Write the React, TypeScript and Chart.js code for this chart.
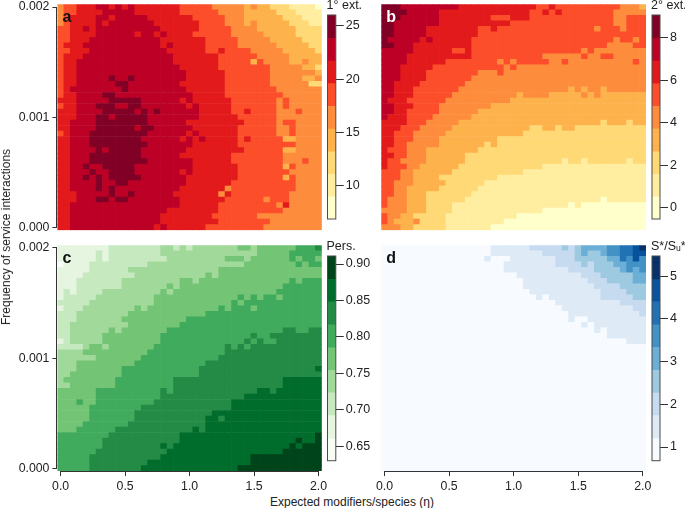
import React, { useEffect, useRef } from "react";
import { Chart, registerables } from "chart.js";

Chart.register(...registerables);

const FONT = '"Liberation Sans", Arial, sans-serif';
const INK = "#222222";

const etaStep = 0.05;
const freqStep = 0.00005;
const freqTop = 0.002;
const columnCount = 41;

const xTicks = [0, 0.5, 1, 1.5, 2];
const yTicks = [0, 0.001, 0.002];

const ylOrRd = ["#ffffcc", "#ffeda0", "#fed976", "#feb24c", "#fd8d3c", "#fc4e2a", "#e31a1c", "#bd0026", "#800026"];
const greens = ["#f7fcf5", "#e5f5e0", "#c7e9c0", "#a1d99b", "#74c476", "#41ab5d", "#238b45", "#006d2c", "#00441b"];
const blues = ["#f7fbff", "#deebf7", "#c6dbef", "#9ecae1", "#6baed6", "#4292c6", "#2171b5", "#08519c", "#08306b"];

const breaksA = [6.9, 9.03, 11.15, 13.27, 15.4, 17.52, 19.65, 21.77, 23.9, 26.03];
const breaksB = [-0.52, 0.54, 1.61, 2.67, 3.74, 4.8, 5.86, 6.93, 7.99, 9.06];
const breaksC = [0.63, 0.661, 0.693, 0.724, 0.755, 0.786, 0.817, 0.849, 0.88, 0.911];
const breaksD = [0.68, 1.21, 1.75, 2.28, 2.81, 3.35, 3.88, 4.41, 4.94, 5.475];

const ticksA = [10, 15, 20, 25];
const ticksB = [0, 2, 4, 6, 8];
const ticksC = [0.65, 0.7, 0.75, 0.8, 0.85, 0.9];
const ticksD = [1, 2, 3, 4, 5];

// Each row runs from the top of a panel; "c:l" means level l starts at column c.
const primaryExtinctions = [
  "0:4 1:5 3:6 6:7 8:6 9:7 10:6 11:7 12:6 19:5 24:4 29:3 30:4 31:3 33:2 36:1 40:0",
  "0:4 1:5 3:6 7:7 12:6 19:5 25:4 29:3 34:2 37:1",
  "0:4 1:5 2:6 6:7 8:6 9:7 14:6 21:5 26:4 29:3 35:2 38:1",
  "0:4 1:5 2:6 6:7 7:6 8:7 15:6 22:5 26:4 29:3 30:4 31:3 36:2 39:1",
  "0:5 2:6 4:7 5:6 6:7 16:6 22:5 27:4 31:3 37:2",
  "0:5 2:6 6:7 12:6 13:7 15:6 16:7 17:6 21:5 27:4 32:3 37:2",
  "0:5 2:6 5:7 16:6 23:5 28:4 33:3 38:2",
  "0:5 1:6 4:7 5:7 16:6 17:7 18:6 23:5 28:4 34:3 39:2",
  "0:5 2:6 5:7 17:6 23:5 25:6 26:5 30:4 35:3 40:2",
  "0:5 1:6 4:7 18:6 25:5 31:4 36:3",
  "0:5 1:6 3:7 18:6 25:5 30:3 31:5 32:4 36:3 38:4 39:3",
  "0:5 1:6 3:7 19:6 25:5 33:4 38:3 40:2",
  "0:5 1:6 3:7 20:6 26:5 33:4 40:3",
  "0:5 1:6 3:7 8:8 9:7 11:8 12:7 20:6 26:5 33:4 38:3 40:4",
  "0:5 1:6 3:7 9:8 11:7 19:6 26:5 33:4 39:2",
  "0:5 1:6 2:7 10:8 11:7 20:6 26:5 34:4",
  "0:5 1:6 3:7 7:8 9:7 21:6 26:5 35:4",
  "0:6 3:7 8:8 13:7 19:6 20:7 21:6 27:5 34:4 35:5 36:4",
  "0:5 1:6 3:7 6:8 9:7 11:8 13:7 20:6 21:7 22:6 27:5 34:4 35:5 36:4",
  "0:6 3:7 7:8 12:7 13:8 14:7 15:8 16:7 22:6 27:5 29:6 30:5 34:4 37:5 38:4",
  "0:6 3:7 6:8 8:7 9:8 14:7 22:6 28:5 34:4",
  "0:6 2:7 6:8 14:7 20:6 29:5 34:4 35:5 37:4",
  "0:6 2:7 6:8 12:7 13:8 15:7 21:6 28:5 34:4 36:5 37:4",
  "0:5 1:6 2:7 5:8 14:7 20:6 21:7 22:6 28:5 34:4 36:5 37:4",
  "0:6 2:7 5:8 13:7 19:6 20:7 21:6 22:7 23:6 28:5 29:6 30:5 35:3 37:4",
  "0:6 2:7 5:8 14:7 21:6 28:5 37:4",
  "0:6 2:7 6:8 7:7 8:8 13:7 20:6 29:5 35:3 37:4",
  "0:6 2:7 5:8 13:7 19:6 27:5 35:4",
  "0:6 2:7 5:8 14:7 21:6 27:5 35:4 38:5 39:4",
  "0:6 2:7 4:8 5:7 7:8 12:7 21:6 28:5 35:3 36:5 37:4",
  "0:6 2:7 5:8 6:7 8:8 12:7 19:6 20:7 21:6 28:5 36:4",
  "0:6 2:7 4:8 5:7 6:8 7:7 8:8 13:7 20:6 28:5 35:3 36:5 37:4",
  "0:6 2:7 6:8 7:7 9:8 11:7 20:6 27:5 37:4",
  "0:6 2:7 6:8 7:7 8:8 9:7 19:6 26:4 27:5 37:4",
  "0:6 3:7 8:8 9:7 11:8 12:7 18:6 25:4 26:6 27:5 36:4",
  "0:6 3:7 6:8 8:7 9:8 11:7 19:6 26:5 32:4 33:5 36:4",
  "0:6 2:7 19:6 25:5 34:4 35:6 36:4",
  "0:6 2:7 17:6 25:5 35:4",
  "0:6 2:7 16:6 24:5 31:4",
  "0:6 2:7 16:6 24:6 25:5 33:4",
  "0:6 2:7 15:6 16:7 17:6 23:5 32:4",
];

const secondaryExtinctions = [
  "0:8 3:7 12:6 24:5 26:6 27:5 37:4 40:3",
  "0:8 4:7 9:6 23:5 25:6 26:5 27:6 28:5 36:4",
  "0:8 3:7 9:6 17:5 20:6 23:5 36:4 38:5",
  "0:8 2:7 9:6 20:5 36:4 38:5",
  "0:8 2:7 7:6 15:5 17:6 18:5 33:4 34:5 37:4 38:5",
  "0:8 2:7 7:6 15:5",
  "0:8 1:7 6:6 7:7 8:6 14:5 36:4 37:5 39:4 40:5",
  "0:8 2:7 5:6 14:5 35:4 39:5",
  "0:7 5:6 11:5 13:6 14:5 31:4 32:5 33:4",
  "0:7 4:6 14:5 25:4 31:5 32:4 34:5 36:4",
  "0:7 4:6 10:5 18:4 19:5 20:4 21:5 26:4 28:5 29:4 39:5 40:4",
  "0:7 3:6 8:5 19:4 20:5 21:4",
  "0:7 3:6 7:5 15:4 18:5 19:4",
  "0:7 3:6 7:5 14:4",
  "0:7 2:6 6:5 13:4",
  "0:7 2:6 5:5 12:4 29:3 30:4 31:3 32:4 34:3 35:4",
  "0:7 2:6 5:5 11:4 21:3 22:4 26:3 31:4 32:3 33:4 34:3",
  "0:7 1:6 4:5 10:4 20:3",
  "0:7 2:6 5:5 9:4 17:3",
  "0:7 2:6 4:5 9:4 15:3",
  "0:7 1:6 4:5 8:4 14:3",
  "0:6 4:5 7:4 12:3 34:2 35:3 38:2 39:3",
  "0:6 3:5 6:4 11:3 23:2 25:3 27:2 28:3 30:2",
  "0:6 2:5 5:4 10:3 22:2",
  "0:6 2:5 5:4 9:3 18:2",
  "0:6 2:5 4:4 9:3 16:2 17:3 18:2",
  "0:6 1:5 4:4 7:3 15:2",
  "0:6 2:5 4:4 7:3 13:2",
  "0:6 1:5 3:4 7:3 13:2 28:1 29:2 31:1 32:2 38:1 39:2",
  "0:6 1:5 4:4 6:3 12:2 25:1",
  "0:5 3:4 5:3 11:2 22:1",
  "0:5 3:4 5:3 9:2 18:1",
  "0:5 2:4 5:3 10:2 16:1",
  "0:5 2:4 4:3 9:2 15:1",
  "0:5 2:4 4:3 7:2 14:1",
  "0:5 1:4 4:3 7:2 13:1 34:0 35:1",
  "0:5 1:4 4:3 7:2 11:1 29:0 30:1 31:0",
  "0:4 4:3 7:2 11:1 25:0",
  "0:5 1:4 3:3 5:2 10:1 21:0",
  "0:5 1:4 2:3 5:4 6:2 10:1 19:0",
  "0:4 3:3 5:2 10:1 17:0",
];

const persistence = [
  "0:1 8:2 16:3 18:2 19:3 20:2 21:3 28:4 30:3 31:4 37:5 40:6",
  "0:1 6:2 7:1 8:2 16:3 31:4 36:5",
  "0:1 6:2 7:1 8:2 17:3 26:4 29:3 30:4 36:5 37:4 38:5 40:4",
  "0:0 1:1 5:2 14:3 29:4 37:5 38:4 39:5",
  "0:1 5:2 11:3 25:4",
  "0:1 4:2 12:3 23:4 24:3 25:4",
  "0:1 3:2 10:3 19:4 21:3 22:4 36:5 37:4 38:5",
  "0:1 3:2 10:3 17:4 18:3 19:4 35:5",
  "0:1 1:2 2:1 3:2 7:3 16:4 17:3 18:4 34:5",
  "0:1 1:2 6:3 15:4 28:5 29:4 30:5 31:4 32:5 34:4 35:5",
  "0:2 5:3 15:4 27:5 28:4 29:5",
  "0:1 1:2 4:3 12:4 13:3 14:4 25:5 26:4 27:5 30:4 31:5",
  "0:2 3:3 11:4 23:5",
  "0:2 3:3 10:4 20:5",
  "0:2 2:3 10:3 11:4 19:5",
  "0:2 2:3 8:4 9:3 10:4 17:5 35:6 37:5 39:6",
  "0:2 2:3 7:4 16:5 30:6 31:5 33:6",
  "0:1 1:2 2:3 7:4 16:5 29:6 30:5 31:6 32:5 34:6",
  "0:2 4:3 5:4 7:3 8:4 15:5 26:6 27:5 28:6 29:5 30:6",
  "0:3 4:4 14:5 26:6",
  "0:3 4:3 6:4 13:5 25:6",
  "0:3 3:4 12:5 23:6",
  "0:3 3:4 10:5 22:6 40:7",
  "0:3 2:4 10:5 22:6",
  "0:3 1:4 9:5 18:6 35:7",
  "0:3 2:4 9:5 18:6 35:7",
  "0:4 6:5 16:6 17:5 18:6 31:7 33:6 34:7",
  "0:4 6:5 16:6 29:7",
  "0:4 3:5 4:4 6:5 15:6 27:7",
  "0:4 5:5 13:6 27:7",
  "0:4 5:5 12:6 24:7",
  "0:4 5:5 12:6 23:7 25:6 26:7",
  "0:4 4:5 11:6 23:7",
  "0:4 3:5 9:6 21:7 22:6 23:7",
  "0:5 8:6 19:7 40:8",
  "0:5 7:6 19:7 37:8 38:7 40:8",
  "0:5 7:6 16:7 17:6 18:7 36:8 37:7 38:8",
  "0:5 6:6 17:7 35:8",
  "0:5 5:6 16:7 30:8",
  "0:5 5:6 14:7 30:8",
  "0:5 5:6 13:7 28:8",
];

const speciesRatio = [
  "0:0 17:1 23:2 28:3 29:2 30:3 31:4 35:5 37:6 39:7 40:8",
  "0:0 17:1 25:2 30:3 31:4 32:3 34:4 35:5 37:6 39:7",
  "0:0 16:1 17:0 20:1 27:2 30:3 35:4 37:6 38:5 39:7 40:5",
  "0:0 19:1 27:2 31:3 32:2 33:3 36:4 38:5",
  "0:0 19:1 29:2 33:3 37:4 38:5 39:4 40:5",
  "0:0 21:1 31:2 34:3 39:4",
  "0:0 22:1 32:2 35:3 39:4",
  "0:0 22:1 33:2 37:3",
  "0:0 23:1 34:2 38:3",
  "0:0 24:1 25:0 26:1 34:2 39:3",
  "0:0 27:1 37:2",
  "0:0 28:1 39:2",
  "0:0 29:1 40:2",
  "0:0 29:1 30:0 32:1",
  "0:0 31:1 32:0 33:1",
  "0:0 33:1 34:0 35:1",
  "0:0 35:1",
  "0:0 38:1",
  "0:0",
  "0:0",
  "0:0",
  "0:0",
  "0:0",
  "0:0",
  "0:0",
  "0:0",
  "0:0",
  "0:0",
  "0:0",
  "0:0",
  "0:0",
  "0:0",
  "0:0",
  "0:0",
  "0:0",
  "0:0",
  "0:0",
  "0:0",
  "0:0",
  "0:0",
  "0:0",
];

function expandRow(row: string): number[] {
  const cells: number[] = new Array(columnCount).fill(0);
  row.split(" ").forEach((run) => {
    const [start, level] = run.split(":").map(Number);
    for (let c = start; c < columnCount; c++) cells[c] = level;
  });
  return cells;
}

type Box = { left: number; top: number; right: number; bottom: number };

function fixScale(size: "width" | "height", value: number) {
  return (s: any) => {
    s[size] = value;
    s.paddingTop = 0;
    s.paddingBottom = 0;
    s.paddingLeft = 0;
    s.paddingRight = 0;
  };
}

function axisLinePlugin(showX: boolean, showY: boolean) {
  return {
    id: "axisLines",
    afterDraw(chart: any) {
      const { ctx, scales } = chart;
      ctx.save();
      ctx.strokeStyle = "#333333";
      ctx.lineWidth = 1;
      ctx.beginPath();
      if (showX) {
        const y = Math.round(chart.chartArea.bottom) + 0.5;
        ctx.moveTo(scales.x.getPixelForValue(xTicks[0]), y);
        ctx.lineTo(scales.x.getPixelForValue(xTicks[xTicks.length - 1]), y);
      }
      if (showY) {
        const x = Math.round(chart.chartArea.left) - 0.5;
        ctx.moveTo(x, scales.y.getPixelForValue(yTicks[0]));
        ctx.lineTo(x, scales.y.getPixelForValue(yTicks[yTicks.length - 1]));
      }
      ctx.stroke();
      ctx.restore();
    },
  };
}

function letterPlugin(letter: string, colour: string, x: number, y: number) {
  return {
    id: "panelLetter",
    afterDraw(chart: any) {
      const { ctx } = chart;
      ctx.save();
      ctx.font = `bold 16px ${FONT}`;
      ctx.fillStyle = colour;
      ctx.textAlign = "left";
      ctx.textBaseline = "alphabetic";
      ctx.fillText(letter, x, y);
      ctx.restore();
    },
  };
}

function makeHeatmap(
  canvas: HTMLCanvasElement,
  rows: string[],
  palette: string[],
  area: Box,
  letter: string,
  letterColour: string,
  showX: boolean,
  showY: boolean
) {
  const points: { x: number; y: number[] }[] = [];
  const colours: string[] = [];
  rows.forEach((row, r) => {
    const centre = freqTop - r * freqStep;
    expandRow(row).forEach((level, c) => {
      points.push({ x: c * etaStep, y: [centre - freqStep / 2, centre + freqStep / 2] });
      colours.push(palette[level]);
    });
  });
  const w = canvas.width;
  const h = canvas.height;
  return new Chart(canvas, {
    type: "bar",
    data: {
      datasets: [{ data: points as any, backgroundColor: colours, borderWidth: 0, barPercentage: 1, categoryPercentage: 1 }],
    },
    options: {
      responsive: false,
      animation: false,
      events: [],
      layout: {
        padding: {
          left: showY ? 0 : area.left,
          top: area.top,
          right: w - area.right,
          bottom: showX ? 0 : h - area.bottom,
        },
      },
      plugins: { legend: { display: false }, tooltip: { enabled: false } },
      scales: {
        x: {
          type: "linear",
          display: showX,
          offset: false,
          min: -etaStep / 2,
          max: 2 + etaStep / 2,
          afterFit: fixScale("height", showX ? h - area.bottom : 0),
          afterBuildTicks: (s: any) => {
            s.ticks = xTicks.map((value) => ({ value }));
          },
          border: { display: false },
          grid: { display: true, offset: false, drawOnChartArea: false, drawTicks: true, tickLength: 5, tickColor: "#333333", tickWidth: 1 },
          ticks: {
            autoSkip: false,
            maxRotation: 0,
            padding: 3,
            color: INK,
            font: { family: FONT, size: 12.3 },
            callback: (v: any) => Number(v).toFixed(1),
          },
        },
        y: {
          type: "linear",
          display: showY,
          min: freqTop - 40 * freqStep - freqStep / 2,
          max: freqTop + freqStep / 2,
          afterFit: fixScale("width", showY ? area.left : 0),
          afterBuildTicks: (s: any) => {
            s.ticks = yTicks.map((value) => ({ value }));
          },
          border: { display: false },
          grid: { display: true, drawOnChartArea: false, drawTicks: true, tickLength: 5, tickColor: "#333333", tickWidth: 1 },
          ticks: {
            autoSkip: false,
            padding: 3,
            color: INK,
            font: { family: FONT, size: 12.3 },
            callback: (v: any) => Number(v).toFixed(3),
          },
        },
      },
    } as any,
    plugins: [axisLinePlugin(showX, showY), letterPlugin(letter, letterColour, area.left + 5, area.top + 17.5)],
  });
}

function makeColourBar(
  canvas: HTMLCanvasElement,
  breaks: number[],
  palette: string[],
  ticks: number[],
  digits: number,
  area: Box,
  title: string
) {
  const w = canvas.width;
  const points = palette.map((_, i) => ({ x: "band", y: [breaks[i], breaks[i + 1]] }));
  return new Chart(canvas, {
    type: "bar",
    data: {
      labels: ["band"],
      datasets: [{ data: points as any, backgroundColor: palette, borderWidth: 0, barPercentage: 1, categoryPercentage: 1 }],
    },
    options: {
      responsive: false,
      animation: false,
      events: [],
      layout: { padding: { left: area.left, top: area.top, right: 0, bottom: canvas.height - area.bottom } },
      plugins: { legend: { display: false }, tooltip: { enabled: false } },
      scales: {
        x: { display: false },
        y: {
          type: "linear",
          position: "right",
          min: breaks[0],
          max: breaks[breaks.length - 1],
          afterFit: fixScale("width", w - area.right),
          afterBuildTicks: (s: any) => {
            s.ticks = ticks.map((value) => ({ value }));
          },
          border: { display: false },
          grid: { display: true, drawOnChartArea: false, drawTicks: true, tickLength: 8, tickColor: "#333333", tickWidth: 1 },
          ticks: {
            autoSkip: false,
            padding: 2,
            color: INK,
            font: { family: FONT, size: 12.5 },
            callback: (v: any) => Number(v).toFixed(digits),
          },
        },
      },
    } as any,
    plugins: [
      {
        id: "barFrame",
        afterDraw(chart: any) {
          const { ctx, chartArea: a } = chart;
          ctx.save();
          ctx.strokeStyle = "#4a4a4a";
          ctx.lineWidth = 1;
          ctx.strokeRect(a.left, a.top, a.right - a.left, a.bottom - a.top);
          ctx.font = `12.5px ${FONT}`;
          ctx.fillStyle = INK;
          ctx.textAlign = "left";
          ctx.textBaseline = "alphabetic";
          ctx.fillText(title, a.left - 1, a.top - 6);
          ctx.restore();
        },
      },
    ],
  });
}

const panelFrames = {
  a: { left: 0, top: 0, width: 323, height: 236 },
  b: { left: 375, top: 0, width: 272, height: 236 },
  c: { left: 0, top: 240, width: 345, height: 252 },
  d: { left: 375, top: 240, width: 310, height: 252 },
  ka: { left: 322, top: 0, width: 60, height: 230 },
  kb: { left: 646, top: 0, width: 39, height: 230 },
  kc: { left: 322, top: 241, width: 60, height: 230 },
  kd: { left: 646, top: 241, width: 39, height: 230 },
};

export default function App() {
  const refs = useRef<Record<string, HTMLCanvasElement | null>>({});

  useEffect(() => {
    const r = refs.current as Record<string, HTMLCanvasElement>;
    const charts = [
      makeHeatmap(r.a, primaryExtinctions, ylOrRd, { left: 57.4, top: 4.3, right: 321.8, bottom: 230.2 }, "a", "#111111", false, true),
      makeHeatmap(r.b, secondaryExtinctions, ylOrRd, { left: 6.3, top: 4.3, right: 271, bottom: 230.2 }, "b", "#ffffff", false, false),
      makeHeatmap(r.c, persistence, greens, { left: 57.4, top: 5.2, right: 321.8, bottom: 231.1 }, "c", "#111111", true, true),
      makeHeatmap(r.d, speciesRatio, blues, { left: 6.3, top: 5.2, right: 271, bottom: 231.1 }, "d", "#111111", true, false),
      makeColourBar(r.ka, breaksA, ylOrRd, ticksA, 0, { left: 5.5, top: 15, right: 13.8, bottom: 219 }, "1° ext."),
      makeColourBar(r.kb, breaksB, ylOrRd, ticksB, 0, { left: 6, top: 15, right: 14, bottom: 219 }, "2° ext."),
      makeColourBar(r.kc, breaksC, greens, ticksC, 2, { left: 5.5, top: 15, right: 13.8, bottom: 219.7 }, "Pers."),
      makeColourBar(r.kd, breaksD, blues, ticksD, 0, { left: 6, top: 15, right: 14, bottom: 219.7 }, "S*/Sᵤ*"),
    ];
    return () => charts.forEach((c) => c.destroy());
  }, []);

  return (
    <div style={{ position: "absolute", left: 0, top: 0, width: 685, height: 508, background: "#fff", overflow: "hidden" }}>
      {Object.entries(panelFrames).map(([key, f]) => (
        <canvas
          key={key}
          ref={(el) => {
            refs.current[key] = el;
          }}
          width={f.width}
          height={f.height}
          style={{ position: "absolute", left: f.left, top: f.top, width: f.width, height: f.height }}
        />
      ))}
      <div
        style={{
          position: "absolute",
          left: 352,
          top: 494.5,
          transform: "translateX(-50%)",
          font: `12px ${FONT}`,
          color: INK,
          whiteSpace: "nowrap",
        }}
      >
        Expected modifiers/species (η)
      </div>
      <div
        style={{
          position: "absolute",
          left: 6,
          top: 237,
          transform: "translate(-50%, -50%) rotate(-90deg)",
          font: `12px ${FONT}`,
          color: INK,
          whiteSpace: "nowrap",
        }}
      >
        Frequency of service interactions
      </div>
    </div>
  );
}
